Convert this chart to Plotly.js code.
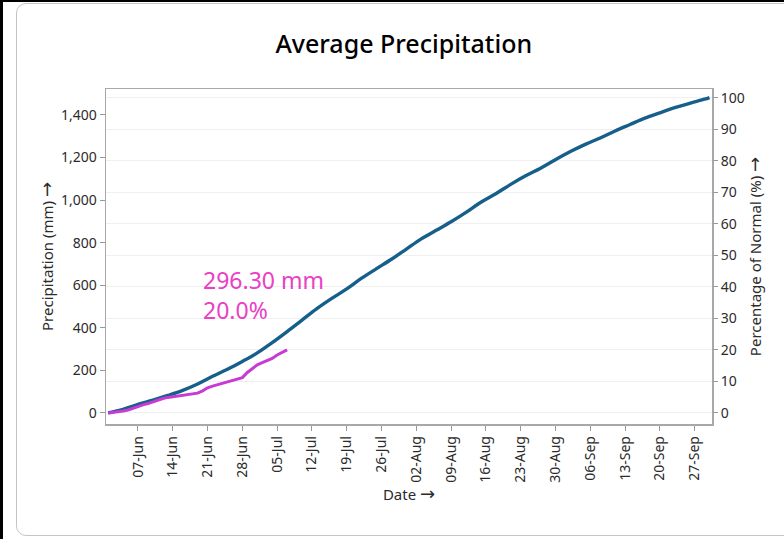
<!DOCTYPE html>
<html>
<head>
<meta charset="utf-8">
<script src="https://cdn.plot.ly/plotly-3.0.1.min.js"></script>
<style>
  html, body { margin:0; padding:0; width:784px; height:539px; overflow:hidden; background:#fff; }
  #topbar { position:absolute; left:0; top:0; width:784px; height:2px; background:#000; }
  #leftbar { position:absolute; left:0; top:0; width:3px; height:539px; background:#000; }
  #card { position:absolute; left:16px; top:3px; width:800px; height:533px; border:1px solid #c4c4c4; border-radius:10px; box-sizing:border-box; }
  #chart { position:absolute; left:0; top:0; width:784px; height:539px; }
</style>
</head>
<body>
<div id="topbar"></div>
<div id="leftbar"></div>
<div id="card"></div>
<div id="chart"></div>
<script>
// Normal (average) cumulative precipitation, mm
const normDates = ['2023-06-01','2023-06-04','2023-06-07','2023-06-10','2023-06-13','2023-06-16','2023-06-19','2023-06-22','2023-06-25','2023-06-28',
  '2023-07-01','2023-07-04','2023-07-07','2023-07-10','2023-07-13','2023-07-16','2023-07-19','2023-07-22','2023-07-25','2023-07-28','2023-07-31',
  '2023-08-03','2023-08-06','2023-08-09','2023-08-12','2023-08-15','2023-08-18','2023-08-21','2023-08-24','2023-08-27','2023-08-30',
  '2023-09-02','2023-09-05','2023-09-08','2023-09-11','2023-09-14','2023-09-17','2023-09-20','2023-09-23','2023-09-26','2023-09-29','2023-09-30'];
const normValues = [0,17,40,60,82,106,136,172,205,242,
  282,330,382,436,490,538,583,633,678,722,770,
  818,858,898,942,990,1030,1074,1114,1150,1190,
  1228,1262,1292,1325,1355,1385,1410,1434,1455,1474,1481.5];

// Observed cumulative precipitation this season, mm
const obsDates = ['2023-06-01','2023-06-02','2023-06-03','2023-06-04','2023-06-05','2023-06-06','2023-06-07','2023-06-08','2023-06-09','2023-06-10',
  '2023-06-11','2023-06-12','2023-06-13','2023-06-14','2023-06-15','2023-06-16','2023-06-17','2023-06-18','2023-06-19','2023-06-20',
  '2023-06-21','2023-06-22','2023-06-23','2023-06-24','2023-06-25','2023-06-26','2023-06-27','2023-06-28','2023-06-29','2023-06-30',
  '2023-07-01','2023-07-02','2023-07-03','2023-07-04','2023-07-05','2023-07-06','2023-07-07'];
const obsValues = [0,2,5,9,14,22,32,38,44,52,
  62,68,73,76,78,81,84,88,93,104,
  118,126,133,140,145,151,158,166,190,210,
  226,236,245,256,272,286,296.3];

const normalTotal = 1481.5;
const labelLines = ['296.30 mm', '20.0%'];

const leftRange = [-52, 1522];
const rightRange = [leftRange[0] / normalTotal * 100, leftRange[1] / normalTotal * 100];

const fontFam = '"Noto Sans", "Open Sans", sans-serif';
const txt = '#2b2b2b';
const arrow = '<span style="font-family:\'DejaVu Sans\';font-size:18px">→</span>';

const traces = [
  { x: normDates, y: normValues, type: 'scatter', mode: 'lines', line: { color: '#165f8a', width: 3.4, shape: 'spline' }, hoverinfo: 'skip', showlegend: false },
  { x: obsDates, y: obsValues, type: 'scatter', mode: 'lines', line: { color: '#c83ad4', width: 3 }, hoverinfo: 'skip', showlegend: false },
  { x: normDates, y: normValues.map(v => v / normalTotal * 100), yaxis: 'y2', type: 'scatter', mode: 'lines', line: { width: 0 }, opacity: 0, hoverinfo: 'skip', showlegend: false }
];

const layout = {
  width: 784, height: 539,
  margin: { l: 106, r: 72, t: 89, b: 115 },
  paper_bgcolor: 'rgba(0,0,0,0)',
  plot_bgcolor: '#fff',
  font: { family: fontFam, size: 14, color: txt },
  title: { text: 'Average Precipitation', font: { family: fontFam, size: 25, color: '#000', weight: 500 }, xref: 'container', x: 0.515, xanchor: 'center', yref: 'container', y: 0.918, yanchor: 'middle' },
  xaxis: {
    type: 'date',
    range: ['2023-05-31 13:30', '2023-09-30 12:00'],
    tick0: '2023-06-07', dtick: 7 * 86400000,
    tickformat: '%d-%b', tickangle: -90,
    ticks: 'outside', ticklen: 5, tickcolor: '#999',
    showgrid: false, zeroline: false,
    showline: true, linecolor: '#a8a8a8', linewidth: 1.5, mirror: true,
    tickfont: { size: 14, color: txt },
    title: { text: 'Date ' + arrow, font: { size: 15, color: txt }, standoff: 0 }
  },
  yaxis: {
    range: leftRange, dtick: 200, tickformat: ',d',
    ticks: 'outside', ticklen: 5, tickcolor: '#999',
    showgrid: false, zeroline: false,
    showline: true, linecolor: '#a8a8a8', linewidth: 1.5, mirror: true,
    tickfont: { size: 14, color: txt },
    title: { text: 'Precipitation (mm) ' + arrow, font: { size: 15, color: txt }, standoff: 3 }
  },
  yaxis2: {
    overlaying: 'y', side: 'right',
    range: rightRange, dtick: 10,
    ticks: 'outside', ticklen: 5, tickcolor: '#999',
    showgrid: true, gridcolor: '#efefef', gridwidth: 1, zeroline: false,
    showline: false,
    tickfont: { size: 14, color: txt },
    title: { text: 'Percentage of Normal (%) ' + arrow, font: { size: 15, color: txt }, standoff: 6 }
  },
  annotations: [{
    x: '2023-06-19 14:00', y: 555, xref: 'x', yref: 'y',
    text: labelLines.join('<br>'), showarrow: false,
    xanchor: 'left', yanchor: 'middle', align: 'left',
    font: { family: fontFam, size: 23, color: '#e940c4' }
  }]
};

Plotly.newPlot('chart', traces, layout, { displayModeBar: false, staticPlot: true });
</script>
</body>
</html>
